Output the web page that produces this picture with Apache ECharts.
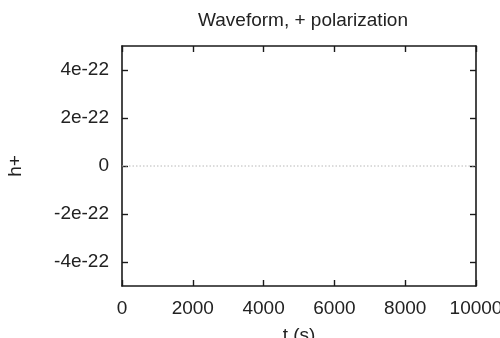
<!DOCTYPE html>
<html>
<head>
<meta charset="utf-8">
<script src="https://cdn.jsdelivr.net/npm/echarts@6/dist/echarts.min.js"></script>
<style>
html,body{margin:0;padding:0;background:#fff;}
#c{width:500px;height:338px;}
</style>
</head>
<body>
<div id="c"></div>
<script>
var titleText = "Waveform, + polarization";
var xName = "t (s)";
var yName = "h+";
var timeValues = [0, 2000, 4000, 6000, 8000, 10000];
var hPlusValues = [0, 0, 0, 0, 0, 0];
var xTicks = [0, 2000, 4000, 6000, 8000, 10000];
var yTicks = [-4e-22, -2e-22, 0, 2e-22, 4e-22];
var yMin = -5e-22, yMax = 5e-22;

function fmtY(v) {
  if (Math.abs(v) < 1e-30) return "0";
  return Math.round(v / 1e-22) + "e-22";
}
function fmtX(v) { return String(Math.round(v)); }

var chart = echarts.init(document.getElementById('c'), null, {renderer: 'canvas'});
var font = "'Liberation Sans', Arial, Helvetica, sans-serif";
var txt = '#222';
var axisLine = {show: true, onZero: false, lineStyle: {color: '#1a1a1a', width: 1.6}};
var tickStyle = {color: '#1a1a1a', width: 1.4};

chart.setOption({
  animation: false,
  backgroundColor: '#fff',
  title: {
    text: titleText,
    left: 298, top: 6, textAlign: 'center',
    textStyle: {fontFamily: font, fontSize: 19, fontWeight: 'normal', color: txt}
  },
  grid: {left: 122, right: 24, top: 46, bottom: 52, containLabel: false, outerBoundsMode: 'none'},
  xAxis: [{
    type: 'value', min: 0, max: 10000, interval: 2000,
    position: 'bottom',
    name: xName, nameLocation: 'middle', nameGap: 40,
    nameTextStyle: {fontFamily: font, fontSize: 19, color: txt},
    axisLine: axisLine,
    axisTick: {show: true, inside: true, length: 6, lineStyle: tickStyle, customValues: xTicks},
    axisLabel: {margin: 13, fontFamily: font, fontSize: 19, color: txt, formatter: fmtX, customValues: xTicks, showMinLabel: true, showMaxLabel: true, hideOverlap: false},
    splitLine: {show: false}
  }, {
    type: 'value', min: 0, max: 10000, interval: 2000,
    position: 'top',
    axisLine: axisLine,
    axisTick: {show: true, inside: true, length: 6, lineStyle: tickStyle, customValues: xTicks},
    axisLabel: {show: false}, splitLine: {show: false}
  }],
  yAxis: [{
    type: 'value', min: yMin, max: yMax,
    position: 'left',
    name: yName, nameLocation: 'middle', nameGap: 97, nameRotate: 90,
    nameTextStyle: {fontFamily: font, fontSize: 19, color: txt},
    axisLine: axisLine,
    axisTick: {show: true, inside: true, length: 6, lineStyle: tickStyle, customValues: yTicks},
    axisLabel: {margin: 13, fontFamily: font, fontSize: 19, color: txt, formatter: fmtY, customValues: yTicks},
    splitLine: {show: false}
  }, {
    type: 'value', min: yMin, max: yMax,
    position: 'right',
    axisLine: axisLine,
    axisTick: {show: true, inside: true, length: 6, lineStyle: tickStyle, customValues: yTicks},
    axisLabel: {show: false}, splitLine: {show: false}
  }],
  series: [{
    type: 'line',
    xAxisIndex: 0, yAxisIndex: 0,
    data: timeValues.map(function (t, i) { return [t, hPlusValues[i]]; }),
    showSymbol: false,
    lineStyle: {color: '#b8b8b8', width: 1, type: [1.5, 2]},
    z: 1
  }]
});
</script>
</body>
</html>
